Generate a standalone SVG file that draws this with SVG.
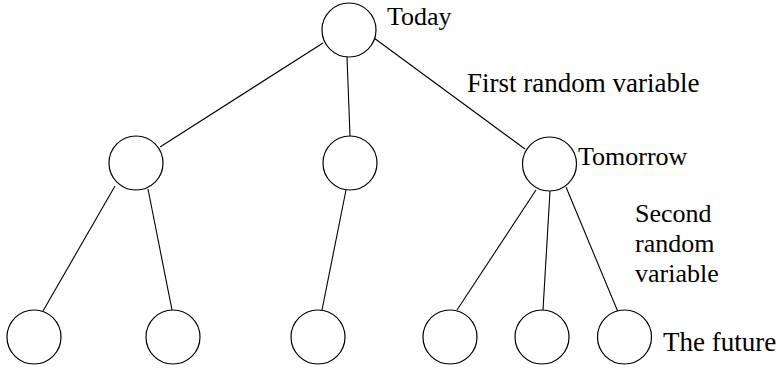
<svg xmlns="http://www.w3.org/2000/svg" width="778" height="370" viewBox="0 0 778 370">
<style>
.n{fill:#fff;stroke:#000;stroke-width:1.2}
.e{stroke:#000;stroke-width:1.1;fill:none}
.t{font-family:"Liberation Serif","Times New Roman",serif;font-size:26px;fill:#000}
</style>
<rect width="778" height="370" fill="#fff"/>
<g id="connectors">
<line class="e" x1="323" y1="43" x2="160" y2="147"/>
<line class="e" x1="347" y1="57" x2="350" y2="136"/>
<line class="e" x1="374" y1="38" x2="525" y2="149"/>
<line class="e" x1="115" y1="186" x2="43" y2="311"/>
<line class="e" x1="148" y1="189" x2="172" y2="310"/>
<line class="e" x1="346" y1="190" x2="322" y2="310"/>
<line class="e" x1="536" y1="190" x2="457" y2="310"/>
<line class="e" x1="550" y1="191" x2="543" y2="310"/>
<line class="e" x1="566" y1="187" x2="618" y2="312"/>
</g>
<g id="today"><circle class="n" cx="349" cy="30" r="27"/><text class="t" x="387" y="25">Today</text></g>
<g id="tomorrow-left"><circle class="n" cx="136" cy="163" r="27"/></g>
<g id="tomorrow-mid"><circle class="n" cx="350" cy="163" r="27"/></g>
<g id="tomorrow-right"><circle class="n" cx="549.5" cy="164" r="27"/><text class="t" x="578" y="165">Tomorrow</text></g>
<g id="future1"><circle class="n" cx="34" cy="337" r="27"/></g>
<g id="future2"><circle class="n" cx="173" cy="337" r="27"/></g>
<g id="future3"><circle class="n" cx="318" cy="337" r="27"/></g>
<g id="future4"><circle class="n" cx="450" cy="337" r="27"/></g>
<g id="future5"><circle class="n" cx="542" cy="337" r="27"/></g>
<g id="future6"><circle class="n" cx="624.5" cy="337" r="27"/><text class="t" x="663" y="351" style="font-size:27px">The future</text></g>
<g id="labels">
<text class="t" x="467" y="92" style="font-size:27px">First random variable</text>
<text class="t" x="635" y="222">Second</text>
<text class="t" x="635" y="252">random</text>
<text class="t" x="635" y="282">variable</text>
</g>
</svg>
